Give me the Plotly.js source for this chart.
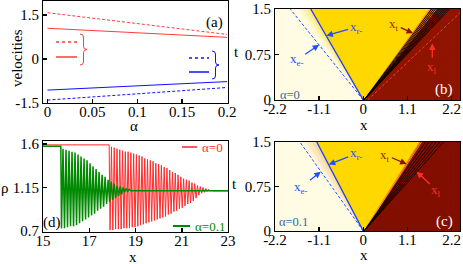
<!DOCTYPE html>
<html><head><meta charset="utf-8">
<script src="https://cdn.plot.ly/plotly-3.0.1.min.js"></script>
<style>html,body{margin:0;padding:0;background:#fff}#chart{width:463px;height:264px}</style>
</head><body><div id="chart"></div>
<script>
// ---------- panel (a): velocities vs alpha ----------
const alpha = [0, 0.05, 0.1, 0.15, 0.2];
const zetaPlusDashed  = [1.58, 1.40, 1.21, 1.03, 0.84];
const zetaPlusSolid   = [1.05, 0.97, 0.90, 0.82, 0.74];
const zetaMinusSolid  = [-1.06, -0.99, -0.92, -0.85, -0.77];
const zetaMinusDashed = [-1.40, -1.30, -1.19, -1.08, -0.97];

// ---------- panels (b),(c): front positions x at t = 0 and t = 1.5 ----------
const tFront = [0, 1.5];
// alpha = 0
const b_xeMinus = [0, -1.82];
const b_xrMinus = [0, -1.31];
const b_xt      = [0.02, 1.66];
const b_xl      = [0.11, 2.51];
const b_gradTop = [-1.62, -1.52, -1.42, -1.31];
const b_stripeOrange = [1.675, 1.725, 1.775, 1.825];
const b_stripeBlack  = [1.70, 1.75, 1.80, 1.85, 1.90, 1.95, 2.00, 2.05, 2.10, 2.15];
// alpha = 0.1
const c_xeMinus = [0, -1.58];
const c_xrMinus = [0, -1.16];
const c_xt      = [0.02, 1.41];
const c_gradTop = [-1.54, -1.42, -1.29, -1.16];
const c_stripeOrange = [1.45];
const c_stripeBlack  = [1.55, 1.64, 1.73, 1.82, 1.91, 2.00];

// ---------- panel (d): density profiles ----------
const rhoX0 = [15, 17.86, 17.90, 17.96, 18.02, 18.08, 18.14, 18.20, 18.26, 18.32, 18.38, 18.44, 18.50, 18.56, 18.62, 18.68, 18.74, 18.80, 18.86, 18.92, 18.98, 19.04, 19.10, 19.16, 19.22, 19.28, 19.34, 19.40, 19.46, 19.52, 19.58, 19.64, 19.70, 19.76, 19.82, 19.88, 19.94, 20.00, 20.06, 20.12, 20.18, 20.24, 20.30, 20.36, 20.42, 20.48, 20.54, 20.60, 20.66, 20.72, 20.78, 20.84, 20.90, 20.96, 21.02, 21.08, 21.14, 21.20, 21.26, 21.32, 21.38, 21.44, 21.50, 21.56, 21.62, 21.68, 21.74, 21.80, 21.86, 21.92, 21.98, 22.04, 22.10, 22.16, 22.22, 22.28, 22.34, 23];
const rho0 = [1.59, 1.59,
  0.71,1.57, 0.71,1.56, 0.72,1.55, 0.72,1.54, 0.72,1.53, 0.73,1.52, 0.73,1.52, 0.73,1.51, 0.74,1.50, 0.74,1.49,
  0.75,1.48, 0.76,1.47, 0.77,1.45, 0.78,1.44, 0.79,1.43, 0.80,1.42, 0.81,1.40, 0.82,1.39, 0.83,1.38, 0.84,1.36,
  0.85,1.35, 0.87,1.33, 0.88,1.31, 0.90,1.30, 0.91,1.28, 0.93,1.26, 0.94,1.24, 0.96,1.23, 0.98,1.22, 0.99,1.20,
  1.01,1.19, 1.04,1.17, 1.07,1.16, 1.09,1.15, 1.10,1.14, 1.11,1.13, 1.115,1.12,
  1.115, 1.115];
const rhoX1 = [15, 15.77, 15.80, 15.865, 15.93, 15.995, 16.06, 16.125, 16.19, 16.255, 16.32, 16.385, 16.45, 16.515, 16.58, 16.645, 16.71, 16.775, 16.84, 16.905, 16.97, 17.035, 17.10, 17.165, 17.23, 17.295, 17.36, 17.425, 17.49, 17.555, 17.62, 17.685, 17.75, 17.815, 17.88, 17.945, 18.01, 18.075, 18.14, 18.205, 18.27, 18.335, 18.40, 18.465, 18.53, 18.595, 18.66, 18.725, 18.80, 23];
const rho1 = [1.575, 1.575,
  0.725,1.55, 0.73,1.54, 0.74,1.53, 0.75,1.52, 0.75,1.51, 0.76,1.49, 0.78,1.47, 0.80,1.45, 0.82,1.43, 0.84,1.40,
  0.86,1.37, 0.88,1.34, 0.91,1.31, 0.93,1.28, 0.95,1.26, 0.98,1.23, 1.00,1.21, 1.02,1.19, 1.04,1.17, 1.06,1.16,
  1.08,1.15, 1.10,1.14, 1.11,1.13,
  1.115, 1.115];

// ---------- styling constants ----------
const W = 463, H = 264;
const FONT = '"Liberation Serif", "Times New Roman", Times, "DejaVu Serif", serif';
const px = v => v / W, py = v => 1 - v / H;
const xMaxBC = 2.41;
const cream = '#FFFCE3', gold = '#FFD800';

const traces = [];
function poly(xs, ys, color, xa, ya) {
  traces.push({x: xs, y: ys, xaxis: xa, yaxis: ya, type: 'scatter', mode: 'lines',
    fill: 'toself', fillcolor: color, line: {width: 0, color: color}, hoverinfo: 'skip'});
}
function line(xs, ys, color, width, dash, xa, ya) {
  traces.push({x: xs, y: ys, xaxis: xa, yaxis: ya, type: 'scatter', mode: 'lines',
    line: {color: color, width: width, dash: dash || 'solid'}, hoverinfo: 'skip'});
}

// (a)
line(alpha, zetaPlusDashed, '#ff3b3b', 1, '3px,2px', 'x', 'y');
line(alpha, zetaPlusSolid, '#ff3b3b', 1, 'solid', 'x', 'y');
line(alpha, zetaMinusSolid, '#1010ff', 1, 'solid', 'x', 'y');
line(alpha, zetaMinusDashed, '#1010ff', 1, '3px,2px', 'x', 'y');

function fanPanel(xe, xr, xt, grad, gradColors, darkRed, stripeOrange, stripeBlack, xa, ya) {
  const T = tFront[1];
  poly([xe[0] - 3, xe[0] - 3, xMaxBC, xMaxBC], [0, T, T, 0], cream, xa, ya);
  for (let i = 0; i < grad.length - 1; i++) {
    poly([xr[0], grad[i], grad[i + 1]], [0, T, T], gradColors[i], xa, ya);
  }
  poly([xr[0], xr[1], xt[1], xt[0]], [0, T, T, 0], gold, xa, ya);
  poly([xt[0], xt[1], xMaxBC, xMaxBC], [0, T, T, 0], darkRed, xa, ya);
  line([xt[0], xt[1]], tFront, '#ff8a00', 1.2, 'solid', xa, ya);
  stripeOrange.forEach(s => line([xt[0], s], tFront, '#ff9a10', 0.9, 'solid', xa, ya));
  stripeBlack.forEach(s => line([xt[0], s], tFront, '#000000', 0.8, 'solid', xa, ya));
  line(xe, tFront, '#2050ff', 1, '3px,2px', xa, ya);
  line(xr, tFront, '#1a3cff', 1.3, 'solid', xa, ya);
}
fanPanel(b_xeMinus, b_xrMinus, b_xt, b_gradTop, ['#FFF8CC', '#FFF2A6', '#FFEA80'], '#8E1400',
  b_stripeOrange, b_stripeBlack, 'x2', 'y2');
line(b_xl, tFront, '#ff3a1f', 1, '3px,2px', 'x2', 'y2');
fanPanel(c_xeMinus, c_xrMinus, c_xt, c_gradTop, ['#FFF4D6', '#FDE8BE', '#FBDCA4'], '#820E00',
  c_stripeOrange, c_stripeBlack, 'x3', 'y3');

// (d)
line(rhoX0, rho0, '#ff2a2a', 1, 'solid', 'x4', 'y4');
line(rhoX1, rho1, '#008a00', 1.5, 'solid', 'x4', 'y4');

// ---------- axes ----------
function axis(domain, range, tickvals, ticktext, anchor, standoff) {
  return {domain: domain, range: range, tickmode: 'array', tickvals: tickvals, ticktext: ticktext,
    ticks: 'inside', ticklen: 4, tickwidth: 1.5, tickcolor: '#000', showgrid: false, zeroline: false,
    showline: true, linecolor: '#000', linewidth: 1, mirror: true, anchor: anchor,
    ticklabelstandoff: standoff,
    tickfont: {family: FONT, size: 15, color: '#000'}, fixedrange: true};
}
const dA_x = [px(43), px(228)], dA_y = [py(103), py(1)];
const dB_x = [px(275), px(460)], dB_y = [py(100), py(9)];
const dC_x = [px(275), px(460)], dC_y = [py(231), py(142)];
const dD_x = [px(43), px(228)], dD_y = [py(232), py(141)];

const layout = {
  width: W, height: H, margin: {l: 0, r: 0, t: 0, b: 0}, showlegend: false,
  paper_bgcolor: '#fff', plot_bgcolor: '#fff',
  font: {family: FONT, size: 15, color: '#000'},
  xaxis: axis(dA_x, [-0.005, 0.201], [0, 0.05, 0.1, 0.15, 0.2], ['0', '0.05', '0.1', '0.15', '0.2'], 'y', -5),
  yaxis: axis(dA_y, [-1.5, 1.98], [-1.5, 0, 1.5], ['-1.5', '0', '1.5'], 'x', 0),
  xaxis2: axis(dB_x, [-2.2, xMaxBC], [-2.2, -1.1, 0, 1.1, 2.2], ['-2.2', '-1.1', '0', '1.1', '2.2'], 'y2', -5),
  yaxis2: axis(dB_y, [0, 1.5], [0, 0.75, 1.5], ['0', '0.75', '1.5'], 'x2', 0),
  xaxis3: axis(dC_x, [-2.2, xMaxBC], [-2.2, -1.1, 0, 1.1, 2.2], ['-2.2', '-1.1', '0', '1.1', '2.2'], 'y3', -5),
  yaxis3: axis(dC_y, [0, 1.5], [0, 0.75, 1.5], ['0', '0.75', '1.5'], 'x3', 0),
  xaxis4: axis(dD_x, [15, 23], [15, 17, 19, 21, 23], ['15', '17', '19', '21', '23'], 'y4', -5),
  yaxis4: axis(dD_y, [0.69, 1.63], [0.7, 1.15, 1.6], ['0.7', '1.15', '1.6'], 'x4', 0),
  shapes: [], annotations: []
};

const ann = layout.annotations, shp = layout.shapes;
function txt(x, y, text, opts) {
  ann.push(Object.assign({xref: 'paper', yref: 'paper', x: px(x), y: py(y), text: text, showarrow: false,
    xanchor: 'center', yanchor: 'middle', font: {family: FONT, size: 15, color: '#000'}}, opts || {}));
}
// axis titles
txt(17, 58, 'velocities', {textangle: -90});
txt(134, 126, 'α');
txt(236, 52, 't');
txt(364, 125, 'x');
txt(234, 184, 't');
txt(364, 255, 'x');
txt(5, 188, 'ρ');
txt(133, 257, 'x');
// panel tags
txt(214, 22, '(a)');
txt(444, 90, '(b)', {font: {family: FONT, size: 15, color: '#fff'}});
txt(444, 221, '(c)', {font: {family: FONT, size: 15, color: '#fff'}});
txt(52, 222, '(d)');
txt(278, 95, 'α=0', {xanchor: 'left', font: {family: FONT, size: 12.5, color: '#2f6aa5'}});
txt(277, 222, 'α=0.1', {xanchor: 'left', font: {family: FONT, size: 12.5, color: '#2f6aa5'}});

// legend of (a)
function seg(x0, x1, y, color, width, dash) {
  shp.push({type: 'line', xref: 'paper', yref: 'paper', x0: px(x0), x1: px(x1), y0: py(y), y1: py(y),
    line: {color: color, width: width, dash: dash || 'solid'}});
}
function brace(x, y0, y1, w, color) {
  const m = (y0 + y1) / 2, r = 3;
  const P = (a, b) => px(a) + ',' + py(b);
  const path = 'M' + P(x, y0) + ' Q' + P(x + w / 2, y0) + ' ' + P(x + w / 2, y0 + r) +
    ' L' + P(x + w / 2, m - r) + ' Q' + P(x + w / 2, m) + ' ' + P(x + w, m) +
    ' Q' + P(x + w / 2, m) + ' ' + P(x + w / 2, m + r) +
    ' L' + P(x + w / 2, y1 - r) + ' Q' + P(x + w / 2, y1) + ' ' + P(x, y1);
  shp.push({type: 'path', xref: 'paper', yref: 'paper', path: path, line: {color: color, width: 1}});
}
seg(56, 77, 42, '#ff3b3b', 1.5, 'dot');
seg(56, 77, 57, '#ff3b3b', 1.5);
brace(80, 34, 65, 7, '#ff3b3b');
seg(189, 209, 58, '#1010ff', 1.5, 'dot');
seg(189, 209, 72, '#1010ff', 1.5);
brace(212, 51, 79, 7, '#1010ff');
// legend of (d)
seg(182, 197, 147, '#ff5a5a', 2);
txt(200, 147, 'α=0', {xanchor: 'left', font: {family: FONT, size: 13, color: '#ff2a2a'}});
seg(173, 190, 226, '#008a00', 2);
txt(193, 226, 'α=0.1', {xanchor: 'left', font: {family: FONT, size: 13, color: '#008a00'}});

// arrows in (b),(c)
function arrow(xa, ya, hx, hy, tx, ty, text, color, tcolor) {
  ann.push({xref: xa, yref: ya, axref: xa, ayref: ya, x: hx, y: hy, ax: tx, ay: ty, text: text,
    showarrow: true, arrowhead: 2, arrowsize: 1, arrowwidth: 1.3, arrowcolor: color, standoff: 0,
    font: {family: FONT, size: 13, color: tcolor || color}});
}
arrow('x2', 'y2', -0.92, 1.06, -0.19, 1.20, 'x<sub>r-</sub>', '#1f4fff');
arrow('x2', 'y2', -1.10, 0.91, -1.66, 0.66, 'x<sub>e-</sub>', '#1f4fff');
arrow('x2', 'y2', 1.24, 1.10, 0.77, 1.24, 'x<sub>t</sub>', '#8b1400', '#9a2a00');
arrow('x2', 'y2', 1.72, 0.93, 1.72, 0.53, 'x<sub>l</sub>', '#ff3020');
arrow('x3', 'y3', -0.86, 1.12, -0.19, 1.30, 'x<sub>r-</sub>', '#1f4fff');
arrow('x3', 'y3', -1.06, 1.00, -1.54, 0.74, 'x<sub>e-</sub>', '#1f4fff');
arrow('x3', 'y3', 1.08, 1.13, 0.55, 1.28, 'x<sub>t</sub>', '#8b1400', '#9a2a00');
arrow('x3', 'y3', 1.33, 1.00, 1.82, 0.69, 'x<sub>l</sub>', '#ff3020');

Plotly.newPlot('chart', traces, layout, {staticPlot: true, displayModeBar: false});
</script>
</body></html>
